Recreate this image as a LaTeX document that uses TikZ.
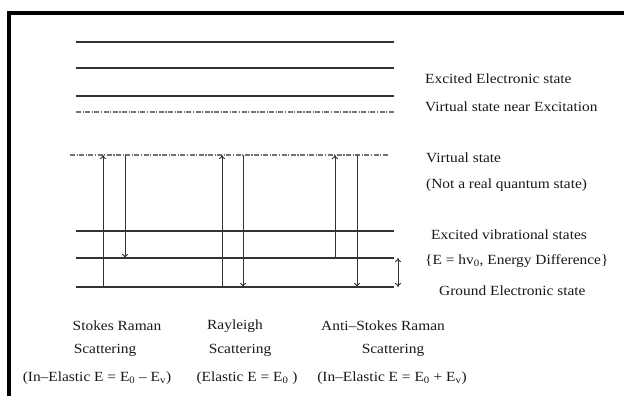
\documentclass[tikz,border=0pt]{standalone}
\usepackage{fontspec}
\setmainfont{Liberation Serif}
\usetikzlibrary{arrows.meta}
\begin{document}
\begin{tikzpicture}[x=1pt,y=-1pt,
  level/.style={draw=black!80, line width=1.2pt},
  virt/.style={draw=black!55, line width=1.2pt, dash pattern=on 5pt off 1.5pt on 1.2pt off 1.5pt},
  arr/.style={-{To[length=4pt,width=6pt]}, draw=black!80, line width=0.9pt},
  darr/.style={{To[length=4pt,width=6pt]}-{To[length=4pt,width=6pt]}, draw=black!80, line width=0.9pt},
  lbl/.style={font=\fontsize{14}{16}\selectfont, text=black!90, inner sep=0pt, xscale=1.1},
  rl/.style={lbl, anchor=west}]
\useasboundingbox (0,0) rectangle (624,396);
\fill[white] (0,0) rectangle (624,396);
% frame (top and left edges visible)
\draw[line width=4pt, black] (9,396) -- (9,13) -- (624,13);
% energy levels
\draw[level] (76,42) -- (394,42);
\draw[level] (76,68) -- (394,68);
\draw[level] (76,96) -- (394,96);
\draw[virt] (76,112) -- (394,112);
\draw[virt] (70,155) -- (389,155);
\draw[level] (76,231) -- (394,231);
\draw[level] (76,258) -- (394,258);
\draw[level] (76,287) -- (394,287);
% arrow end points
\coordinate (sU0) at (103,287); \coordinate (sU1) at (103,155);
\coordinate (sD0) at (125,155); \coordinate (sD1) at (125,258);
\coordinate (rU0) at (222,287); \coordinate (rU1) at (222,155);
\coordinate (rD0) at (243,155); \coordinate (rD1) at (243,287);
\coordinate (aU0) at (335,258); \coordinate (aU1) at (335,155);
\coordinate (aD0) at (357,155); \coordinate (aD1) at (357,287);
\coordinate (dA) at (398,258); \coordinate (dB) at (398,287);
\draw[arr] (sU0) -- (sU1);
\draw[arr] (sD0) -- (sD1);
\draw[arr] (rU0) -- (rU1);
\draw[arr] (rD0) -- (rD1);
\draw[arr] (aU0) -- (aU1);
\draw[arr] (aD0) -- (aD1);
\draw[darr] (dA) -- (dB);
% right labels
\node[rl] (l1) at (425,79) {Excited Electronic state};
\node[rl] (l2) at (425,107) {Virtual state near Excitation};
\node[rl] (l3) at (426,158) {Virtual state};
\node[rl] (l4) at (426,185) {(Not a real quantum state)};
\node[rl] (l5) at (431,235) {Excited vibrational states};
\node[rl] (l6) at (425,261) {\{E = hv\textsubscript{0}, Energy Difference\}};
\node[rl] (l7) at (439,291) {Ground Electronic state};
% bottom labels
\node[lbl] (b1) at (117,326) {Stokes Raman};
\node[lbl] (b2) at (105,350) {Scattering};
\node[lbl] (b3) at (97,378) {(In–Elastic E = E\textsubscript{0} – E\textsubscript{v})};
\node[lbl] (b4) at (235,326) {Rayleigh};
\node[lbl] (b5) at (240,350) {Scattering};
\node[lbl] (b6) at (247,378) {(Elastic E = E\textsubscript{0} )};
\node[lbl] (b7) at (383,326) {Anti–Stokes Raman};
\node[lbl] (b8) at (393,350) {Scattering};
\node[lbl] (b9) at (392,378) {(In–Elastic E = E\textsubscript{0} + E\textsubscript{v})};
\end{tikzpicture}
\end{document}
